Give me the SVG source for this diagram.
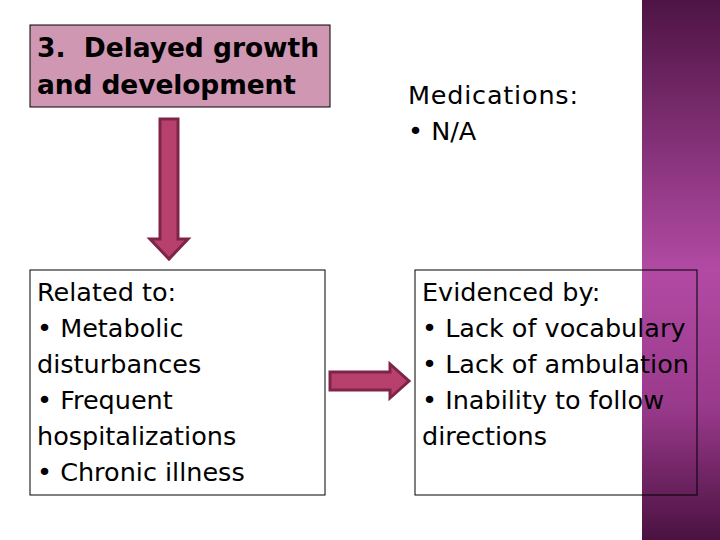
<svg xmlns="http://www.w3.org/2000/svg" width="720" height="540" viewBox="0 0 720 540">
<defs>
<linearGradient id="band" x1="0" y1="0" x2="0" y2="1">
<stop offset="0" stop-color="#4e1444"/>
<stop offset="0.5" stop-color="#b24aa4"/>
<stop offset="0.75" stop-color="#9a3a8c"/>
<stop offset="1" stop-color="#4a1240"/>
</linearGradient>
<style>
text{font-family:"DejaVu Sans",sans-serif;font-size:25.5px;fill:#000}
.b{font-weight:bold;font-size:26.5px}
.box{fill:none;stroke:#000;stroke-width:1}
.arr{fill:#b8406c;stroke:#7e2448;stroke-width:3;stroke-linejoin:miter}
</style>
</defs>
<rect width="720" height="540" fill="#fff"/>
<rect x="642" y="0" width="78" height="540" fill="url(#band)"/>
<g id="node-title">
<rect x="30" y="25" width="300" height="82" fill="#d097b3" stroke="#000"/>
<text class="b" x="37" y="57" xml:space="preserve" textLength="282">3.  Delayed growth</text>
<text class="b" x="37" y="94" textLength="259">and development</text>
</g>
<g id="node-medications">
<text x="408" y="104" textLength="170">Medications:</text>
<text x="408" y="140">• N/A</text>
</g>
<g id="node-related">
<rect class="box" x="30" y="270" width="295" height="225"/>
<text x="37" y="301">Related to:</text>
<text x="37" y="337">• Metabolic</text>
<text x="37" y="373">disturbances</text>
<text x="37" y="409">• Frequent</text>
<text x="37" y="445">hospitalizations</text>
<text x="37" y="481">• Chronic illness</text>
</g>
<g id="node-evidenced">
<rect class="box" x="415" y="270" width="282" height="225"/>
<text x="422" y="301">Evidenced by:</text>
<text x="422" y="337">• Lack of vocabulary</text>
<text x="422" y="373">• Lack of ambulation</text>
<text x="422" y="409">• Inability to follow</text>
<text x="422" y="445">directions</text>
</g>
<g id="connectors">
<polygon class="arr" points="160,119 178,119 178,239 188,239 169,259 150,239 160,239"/>
<polygon class="arr" points="330,372 390,372 390,364 409,381 390,398 390,390 330,390"/>
</g>
</svg>
